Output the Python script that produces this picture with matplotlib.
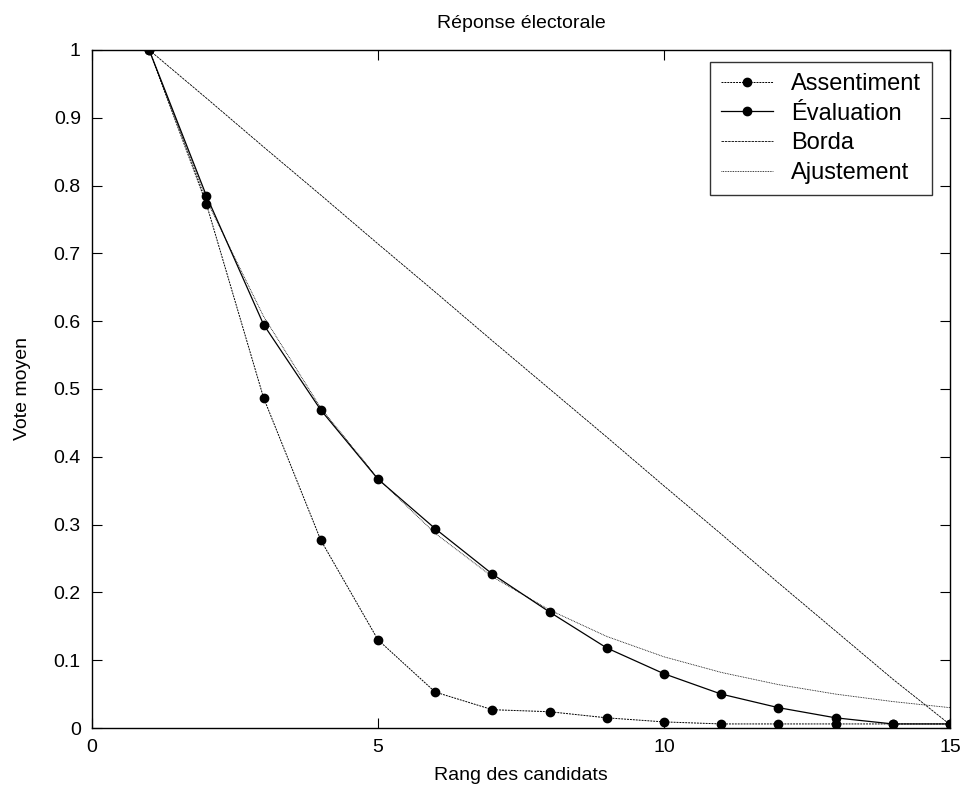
import numpy as np
import matplotlib.pyplot as plt

plt.rcParams['font.family'] = ['Liberation Sans', 'DejaVu Sans']

rang = list(range(1, 16))
assentiment = [1.0, 0.773, 0.487, 0.277, 0.130, 0.053, 0.027, 0.024, 0.015,
               0.009, 0.006, 0.006, 0.006, 0.006, 0.006]
evaluation = [1.0, 0.785, 0.595, 0.469, 0.367, 0.294, 0.227, 0.171, 0.118,
              0.080, 0.050, 0.030, 0.015, 0.006, 0.006]
borda = [1.0, 0.929, 0.857, 0.786, 0.714, 0.643, 0.571, 0.500, 0.429,
         0.357, 0.286, 0.214, 0.143, 0.072, 0.005]
ajustement = [1.0, 0.779, 0.607, 0.472, 0.368, 0.287, 0.223, 0.174, 0.135,
              0.105, 0.082, 0.064, 0.050, 0.039, 0.030]

x_ticks = [0, 5, 10, 15]
y_ticks = [0, 0.1, 0.2, 0.3, 0.4, 0.5, 0.6, 0.7, 0.8, 0.9, 1]
y_labels = ['0', '0.1', '0.2', '0.3', '0.4', '0.5', '0.6', '0.7', '0.8', '0.9', '1']

fig = plt.figure(figsize=(9.62, 7.92), dpi=100)
ax = fig.add_axes([0.0956, 0.0808, 0.892, 0.8561])

ax.plot(rang, assentiment, color='black', lw=0.7, ls=(0, (2, 1)),
        marker='o', ms=6, label='Assentiment')
ax.plot(rang, evaluation, color='black', lw=0.9, ls='-',
        marker='o', ms=6, label='Évaluation')
ax.plot(rang, borda, color='black', lw=0.6, ls=(0, (3, 1)), label='Borda')
ax.plot(rang, ajustement, color='black', lw=0.6, ls=(0, (1, 1)), label='Ajustement')

ax.set_xlim(0, 15)
ax.set_ylim(0, 1)
ax.set_xticks(x_ticks)
ax.set_yticks(y_ticks)
ax.set_yticklabels(y_labels)
ax.tick_params(direction='in', top=True, right=True, labelsize=14, length=7, pad=8)
for s in ax.spines.values():
    s.set_linewidth(1.0)

ax.set_xlabel('Rang des candidats', fontsize=14, labelpad=8)
ax.set_ylabel('Vote moyen', fontsize=14, labelpad=16)
ax.set_title('Réponse électorale', fontsize=14, pad=16)

leg = ax.legend(loc='upper right', bbox_to_anchor=(0.979, 0.982), borderaxespad=0,
                fontsize=17, frameon=True, fancybox=False, edgecolor='black',
                handlelength=2.2, handletextpad=0.8, labelspacing=0.33,
                borderpad=0.45)
leg.get_frame().set_linewidth(1.0)

fig.savefig('out.png', dpi=100)
